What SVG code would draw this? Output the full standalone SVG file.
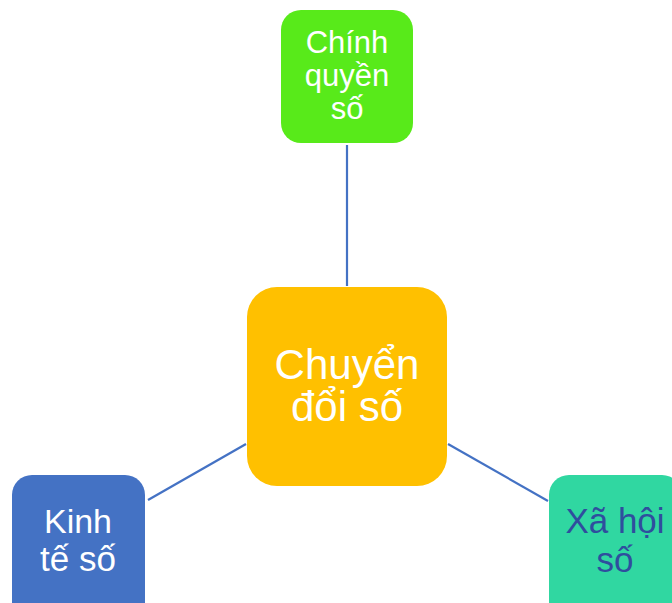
<svg xmlns="http://www.w3.org/2000/svg" width="672" height="603" viewBox="0 0 672 603">
<style>
text{font-family:"Liberation Sans",Arial,sans-serif;text-anchor:middle;}
.w{fill:#FFFFFF;}
.d{fill:#2F4E9E;}
.c{stroke:#4472C4;stroke-width:2.2;fill:none;}
</style>
<rect width="672" height="603" fill="#FFFFFF"/>
<g id="connectors">
<line class="c" x1="347" y1="145" x2="347" y2="286"/>
<line class="c" x1="148" y1="500" x2="246" y2="444"/>
<line class="c" x1="448" y1="444" x2="548" y2="501"/>
</g>
<g id="node-center">
<rect x="247" y="287" width="200" height="199" rx="30" fill="#FFC000"/>
<text class="w" x="347" y="379" font-size="42">Chuyển</text>
<text class="w" x="347" y="421" font-size="42">đổi số</text>
</g>
<g id="node-top">
<rect x="281" y="10" width="132" height="133" rx="20" fill="#58EA1A"/>
<text class="w" x="347" y="53" font-size="31">Chính</text>
<text class="w" x="347" y="86" font-size="31">quyền</text>
<text class="w" x="347" y="119" font-size="31">số</text>
</g>
<g id="node-left">
<rect x="12" y="475" width="133" height="150" rx="20" fill="#4472C4"/>
<text class="w" x="78" y="533" font-size="34">Kinh</text>
<text class="w" x="78" y="571" font-size="35">tế số</text>
</g>
<g id="node-right">
<rect x="549" y="475" width="133" height="150" rx="20" fill="#30D7A1"/>
<text class="d" x="615" y="533" font-size="35">Xã hội</text>
<text class="d" x="615" y="572" font-size="35">số</text>
</g>
</svg>
